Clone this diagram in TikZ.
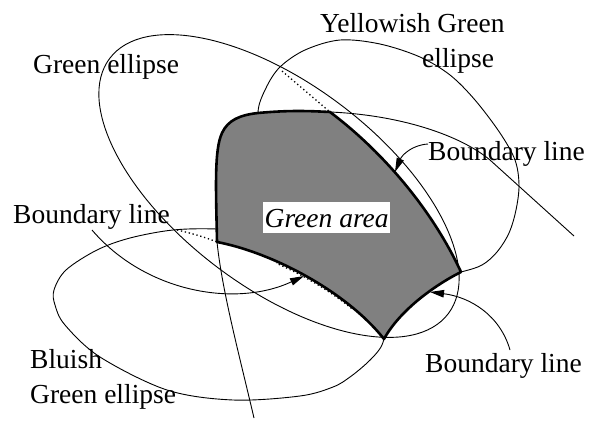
\documentclass[tikz,border=0pt]{standalone}
\usepackage{fontspec}
\setmainfont{Liberation Serif}
\usetikzlibrary{arrows.meta}
\begin{document}
\begin{tikzpicture}[x=1pt,y=-1pt,
  thinline/.style={line width=0.9pt},
  bndline/.style={line width=2.6pt, line join=round},
  dotline/.style={line width=1.3pt, dash pattern=on 1.3pt off 2.7pt},
  lbl/.style={inner sep=0pt, anchor=base west, font=\fontsize{27.5}{33}\selectfont},
  pointer/.style={line width=0.9pt, -{Triangle[length=14pt,width=7.5pt]}}]
\useasboundingbox (0,0) rectangle (597,424);

% corners of the green area
\coordinate (A) at (217,242);
\coordinate (B) at (330,112);
\coordinate (C) at (461,272);
\coordinate (D) at (384,339);

% Green ellipse
\draw[thinline, rotate around={-37:(279,186)}] (279,186) ellipse [x radius=212, y radius=102];

% Yellowish Green ellipse
\draw[thinline] plot[smooth cycle, tension=0.55] coordinates {(258,113) (266,88) (280,67) (305,50) (340,40) (380,44) (420,57) (450,75) (475,100) (500,133) (515,160) (519,185) (516,210) (509,233) (497,252) (482,265) (461,272) (420,282) (360,252) (300,205) (265,150)};

% Bluish Green ellipse
\draw[thinline] plot[smooth cycle, tension=0.55] coordinates {(217,229) (173,230) (130,238) (97,250) (66,270) (54,290) (55,305) (65,325) (100,357) (167,390) (233,400) (300,396) (333,387) (350,377) (367,363) (379,350) (384,339) (389,315) (375,280) (330,250) (270,233)};

% long boundary curve (thin parts)
\coordinate (lowend) at (254,418);
\coordinate (rightend) at (574,236);
\draw[thinline] (lowend) .. controls (238,350) and (222,290) .. (A);
\draw[thinline] (B) .. controls (400,115) and (460,135) .. (490,160) -- (rightend);

% green area
\draw[bndline, fill=gray] (A) .. controls (216,190) and (214,150) .. (222,133)
  .. controls (228,120) and (240,115) .. (258,113)
  .. controls (290,110) and (310,111) .. (B)
  .. controls (378,148) and (430,205) .. (C)
  .. controls (435,285) and (400,310) .. (D)
  .. controls (345,290) and (270,252) .. (A) -- cycle;

% dotted extensions
\coordinate (dotA) at (282,71);
\coordinate (dotB) at (177,230);
\draw[dotline] (dotA) -- (B);
\draw[dotline] (dotB) .. controls (195,234) and (207,238) .. (A);
\begin{scope}
  \clip (276,255) rectangle (352,320);
  \draw[dotline] (218,244.5) .. controls (271,254.5) and (346,292.5) .. (385,341.5);
\end{scope}

% label inside the area
\node[lbl, fill=white, inner xsep=1.5pt, inner ysep=0pt, text height=25pt, text depth=6pt] (garea) at (263,227) {\textit{Green area}};

% pointers
\coordinate (p1s) at (428,144);
\coordinate (p1e) at (395,172);
\coordinate (p2s) at (92,230);
\coordinate (p2e) at (304,276);
\coordinate (p3s) at (510,350);
\coordinate (p3e) at (430,292);
\draw[pointer] (p1s) .. controls (412,145) and (402,155) .. (p1e);
\draw[pointer] (p2s) .. controls (145,292) and (235,308) .. (p2e);
\draw[pointer] (p3s) .. controls (500,315) and (470,297) .. (p3e);

% labels
\node[lbl] (yg1) at (320,32) {Yellowish Green};
\node[lbl] (yg2) at (422,67) {ellipse};
\node[lbl] (ge) at (33,73.5) {Green ellipse};
\node[lbl] (bUR) at (428,160) {Boundary line};
\node[lbl] (bL) at (13,223) {Boundary line};
\node[lbl] (bg1) at (30,368) {Bluish};
\node[lbl] (bg2) at (30,403) {Green ellipse};
\node[lbl] (bLR) at (425,372) {Boundary line};
\end{tikzpicture}
\end{document}
